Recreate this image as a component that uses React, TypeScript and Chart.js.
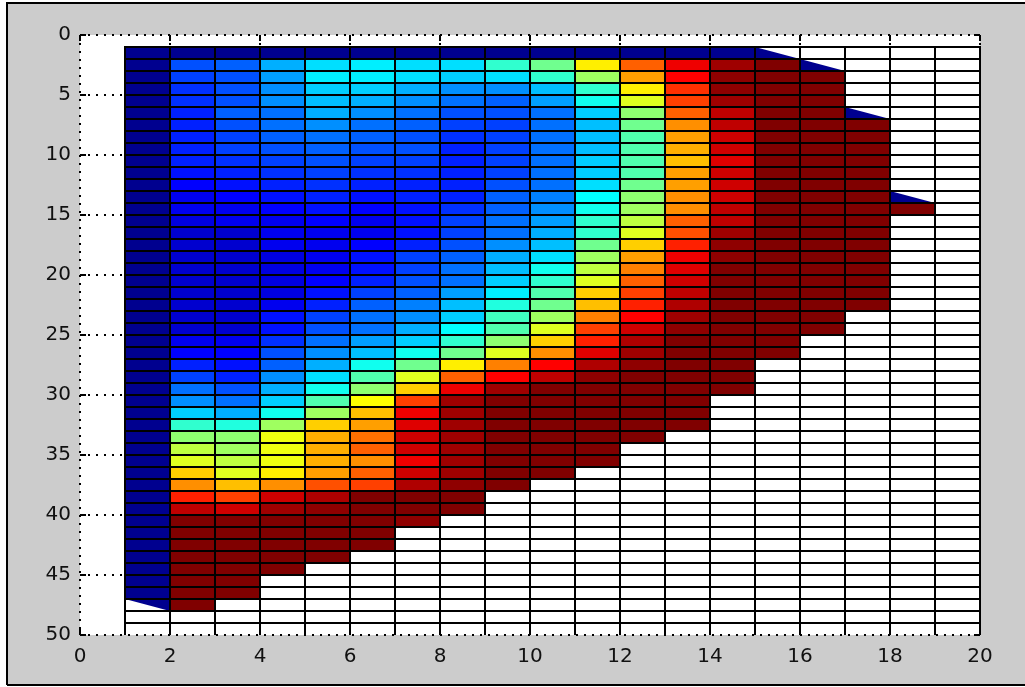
import { useEffect, useRef } from "react";
import { Chart, registerables } from "chart.js";

Chart.register(...registerables);

const CANVAS_W = 1025;
const CANVAS_H = 687;

// Axis ticks
const xTickValues = [0, 2, 4, 6, 8, 10, 12, 14, 16, 18, 20];
const yTickValues = [0, 5, 10, 15, 20, 25, 30, 35, 40, 45, 50];

// Mesh node coordinates (cell edges of the pcolor grid)
const meshX = [1, 2, 3, 4, 5, 6, 7, 8, 9, 10, 11, 12, 13, 14, 15, 16, 17, 18, 19, 20];
const meshY = [1, 2, 3, 4, 5, 6, 7, 8, 9, 10, 11, 12, 13, 14, 15, 16, 17, 18, 19, 20, 21, 22, 23, 24, 25,
  26, 27, 28, 29, 30, 31, 32, 33, 34, 35, 36, 37, 38, 39, 40, 41, 42, 43, 44, 45, 46, 47, 48, 49, 50];

// Left edge of each filled column and the depth of its first filled cell
const columnX = [1, 2, 3, 4, 5, 6, 7, 8, 9, 10, 11, 12, 13, 14, 15, 16, 17, 18];
const columnTop = [1, 1, 1, 1, 1, 1, 1, 1, 1, 1, 1, 1, 1, 1, 2, 3, 7, 14];

// Cell values (0..100 on the jet scale), top to bottom, one array per column
const col01 = [0, 0, 0, 0, 0, 0, 0, 0, 0, 0, 0, 0, 0, 0, 0, 0, 0, 0, 0, 0, 0, 0, 0, 0, 0, 0, 0, 0, 0, 0,
  0, 0, 0, 0, 0, 0, 0, 0, 0, 0, 0, 0, 0, 0, 0, 0];
const col02 = [0, 19, 17, 16, 16, 15, 15, 14, 14, 14, 13, 11, 9, 9, 8, 7, 7, 7, 7, 7, 7, 7, 7, 7, 9, 11,
  14, 17, 22, 26, 32, 42, 50, 55, 59, 66, 73, 84, 94, 100, 100, 100, 100, 100, 100, 100, 100];
const col03 = [0, 20, 19, 19, 19, 20, 19, 18, 17, 16, 14, 13, 11, 9, 9, 7, 7, 7, 7, 7, 7, 7, 7, 7, 9, 11,
  13, 14, 19, 23, 28, 39, 50, 52, 55, 59, 69, 81, 92, 100, 100, 100, 100, 100, 100, 100];
const col04 = [0, 28, 27, 26, 25, 23, 22, 21, 19, 17, 16, 14, 13, 11, 10, 9, 9, 8, 8, 8, 8, 9, 13, 13, 16,
  19, 20, 25, 28, 31, 38, 53, 61, 61, 61, 64, 73, 92, 97, 100, 100, 100, 100, 100];
const col05 = [0, 33, 35, 32, 30, 28, 25, 23, 20, 19, 17, 16, 14, 13, 11, 10, 9, 9, 10, 11, 13, 15, 17, 19,
  22, 25, 28, 33, 38, 44, 52, 66, 70, 70, 70, 72, 80, 95, 98, 100, 100, 100, 100];
const col06 = [0, 35, 35, 32, 29, 26, 23, 21, 19, 17, 16, 14, 13, 11, 10, 10, 11, 12, 13, 14, 17, 20, 22,
  23, 27, 30, 38, 44, 50, 62, 68, 72, 76, 78, 73, 77, 81, 100, 100, 100, 100, 100];
const col07 = [0, 34, 33, 28, 25, 23, 20, 19, 19, 17, 16, 14, 14, 13, 13, 13, 14, 17, 17, 19, 20, 24, 26,
  28, 31, 38, 48, 59, 67, 81, 89, 91, 92, 92, 89, 92, 95, 100, 100, 98];
const col08 = [0, 33, 31, 26, 22, 19, 17, 16, 15, 14, 14, 14, 15, 16, 17, 18, 19, 20, 22, 23, 27, 30, 32,
  36, 42, 48, 63, 78, 89, 97, 97, 97, 97, 97, 97, 97, 98, 100, 100];
const col09 = [0, 41, 33, 25, 21, 19, 17, 17, 17, 17, 17, 19, 20, 20, 22, 23, 25, 28, 30, 31, 35, 40, 43,
  45, 50, 59, 74, 88, 97, 100, 100, 100, 100, 100, 100, 100, 100];
const col10 = [0, 48, 41, 30, 27, 23, 22, 22, 22, 23, 23, 23, 24, 25, 27, 28, 30, 33, 38, 41, 44, 47, 53,
  59, 66, 73, 88, 94, 100, 100, 100, 100, 100, 100, 100, 100];
const col11 = [0, 63, 53, 42, 38, 31, 30, 30, 30, 31, 32, 33, 36, 38, 41, 42, 47, 53, 56, 59, 66, 69, 75,
  81, 84, 91, 95, 98, 100, 100, 100, 100, 100, 100, 100];
const col12 = [0, 77, 71, 63, 58, 50, 48, 45, 45, 44, 45, 47, 50, 52, 56, 59, 67, 72, 75, 78, 81, 84, 88,
  92, 95, 97, 99, 100, 100, 100, 100, 100, 100];
const col13 = [0, 89, 88, 83, 81, 77, 73, 72, 70, 68, 72, 72, 73, 73, 77, 80, 84, 89, 91, 92, 94, 95, 97,
  98, 100, 100, 100, 100, 100, 100, 100, 100];
const col14 = [0, 97, 98, 98, 97, 94, 93, 92, 92, 91, 92, 92, 92, 93, 94, 97, 98, 99, 100, 100, 100, 100,
  100, 100, 100, 100, 100, 100, 100];
const col15 = [100, 100, 100, 100, 100, 100, 100, 100, 100, 100, 100, 100, 100, 100, 100, 100, 100, 100,
  100, 100, 100, 100, 100, 100, 100];
const col16 = [100, 100, 100, 100, 100, 100, 100, 100, 100, 100, 100, 100, 100, 100, 100, 100, 100, 100,
  100, 100, 100, 100];
const col17 = [100, 100, 100, 100, 100, 100, 100, 100, 100, 100, 100, 100, 100, 100, 100, 100];
const col18 = [100];

const columns = [col01, col02, col03, col04, col05, col06, col07, col08, col09, col10, col11, col12,
  col13, col14, col15, col16, col17, col18];

// Partial (triangular) faces along the surface and the floor of the domain
const surfaceWedgeX = [15, 16, 17, 18];
const surfaceWedgeY = [1, 2, 6, 13];
const surfaceWedgeValue = [0, 0, 0, 0];
const floorWedgeX = [1];
const floorWedgeY = [47];
const floorWedgeValue = [0];

// MATLAB-style jet(64) colormap
const JET_SIZE = 64;
const jetTable: number[][] = (() => {
  const m = JET_SIZE;
  const n = Math.ceil(m / 4);
  const u: number[] = [];
  for (let i = 1; i <= n; i++) u.push(i / n);
  for (let i = 1; i < n; i++) u.push(1);
  for (let i = n; i >= 1; i--) u.push(i / n);
  const g0 = Math.ceil(n / 2) - (m % 4 === 1 ? 1 : 0);
  const table = Array.from({ length: m }, () => [0, 0, 0]);
  u.forEach((val, k) => {
    const g = g0 + k + 1;
    const r = g + n;
    const b = g - n;
    if (r >= 1 && r <= m) table[r - 1][0] = val;
    if (g >= 1 && g <= m) table[g - 1][1] = val;
    if (b >= 1 && b <= m) table[b - 1][2] = val;
  });
  return table;
})();

function jet(v: number): string {
  const idx = Math.round(Math.min(1, Math.max(0, v / 100)) * (JET_SIZE - 1));
  const [r, g, b] = jetTable[idx];
  return `rgb(${Math.round(r * 255)},${Math.round(g * 255)},${Math.round(b * 255)})`;
}

type Cell = { x: number; y: number; v: number };

function buildCells(): Cell[] {
  const cells: Cell[] = [];
  columns.forEach((col, i) => {
    col.forEach((v, k) => {
      cells.push({ x: columnX[i] + 0.5, y: columnTop[i] + k + 0.5, v });
    });
  });
  return cells;
}

const pcolorPlugin = {
  id: "pcolorMesh",
  beforeDraw(chart: any) {
    const { ctx, chartArea: a } = chart;
    const xs = chart.scales.x;
    const ys = chart.scales.y;
    ctx.save();
    // figure background and frame
    ctx.fillStyle = "#ffffff";
    ctx.fillRect(0, 0, CANVAS_W, CANVAS_H);
    ctx.fillStyle = "#cccccc";
    ctx.fillRect(7, 3, CANVAS_W - 7, 682);
    ctx.strokeStyle = "#000000";
    ctx.lineWidth = 2;
    ctx.beginPath();
    ctx.moveTo(7, 685);
    ctx.lineTo(7, 3);
    ctx.lineTo(CANVAS_W, 3);
    ctx.moveTo(7, 685);
    ctx.lineTo(CANVAS_W, 685);
    ctx.stroke();

    // axes background
    ctx.fillStyle = "#ffffff";
    ctx.fillRect(a.left, a.top, a.right - a.left, a.bottom - a.top);

    // dotted major grid
    ctx.strokeStyle = "#000000";
    ctx.lineWidth = 2;
    ctx.setLineDash([2, 6]);
    ctx.beginPath();
    xTickValues.forEach((v) => {
      const px = Math.round(xs.getPixelForValue(v));
      ctx.moveTo(px, a.top);
      ctx.lineTo(px, a.bottom);
    });
    yTickValues.forEach((v) => {
      const py = Math.round(ys.getPixelForValue(v));
      ctx.moveTo(a.left, py);
      ctx.lineTo(a.right, py);
    });
    ctx.stroke();
    ctx.setLineDash([]);

    // inward tick marks on all four sides
    const tl = 6;
    ctx.lineWidth = 2;
    ctx.beginPath();
    xTickValues.forEach((v) => {
      const px = Math.round(xs.getPixelForValue(v));
      ctx.moveTo(px, a.bottom);
      ctx.lineTo(px, a.bottom - tl);
      ctx.moveTo(px, a.top);
      ctx.lineTo(px, a.top + tl);
    });
    yTickValues.forEach((v) => {
      const py = Math.round(ys.getPixelForValue(v));
      ctx.moveTo(a.left, py);
      ctx.lineTo(a.left + tl, py);
      ctx.moveTo(a.right, py);
      ctx.lineTo(a.right - tl, py);
    });
    ctx.stroke();
    ctx.restore();
  },
  beforeDatasetsDraw(chart: any) {
    const { ctx } = chart;
    const xs = chart.scales.x;
    const ys = chart.scales.y;
    const px = (v: number) => xs.getPixelForValue(v);
    const py = (v: number) => ys.getPixelForValue(v);
    ctx.save();

    // filled faces
    const data = chart.data.datasets[0].data as Cell[];
    data.forEach((c) => {
      const x0 = px(c.x - 0.5);
      const x1 = px(c.x + 0.5);
      const y0 = py(c.y - 0.5);
      const y1 = py(c.y + 0.5);
      ctx.fillStyle = jet(c.v);
      ctx.fillRect(x0, y0, x1 - x0, y1 - y0);
    });

    // triangular faces at the domain boundary
    surfaceWedgeX.forEach((x, i) => {
      const y = surfaceWedgeY[i];
      ctx.fillStyle = jet(surfaceWedgeValue[i]);
      ctx.beginPath();
      ctx.moveTo(px(x), py(y));
      ctx.lineTo(px(x), py(y + 1));
      ctx.lineTo(px(x + 1), py(y + 1));
      ctx.closePath();
      ctx.fill();
    });
    floorWedgeX.forEach((x, i) => {
      const y = floorWedgeY[i];
      ctx.fillStyle = jet(floorWedgeValue[i]);
      ctx.beginPath();
      ctx.moveTo(px(x), py(y));
      ctx.lineTo(px(x + 1), py(y));
      ctx.lineTo(px(x + 1), py(y + 1));
      ctx.closePath();
      ctx.fill();
    });

    // faceted mesh edges
    ctx.strokeStyle = "#000000";
    ctx.lineWidth = 2;
    ctx.beginPath();
    const xFirst = meshX[0];
    const xLast = meshX[meshX.length - 1];
    const yFirst = meshY[0];
    const yLast = meshY[meshY.length - 1];
    meshX.forEach((x) => {
      const p = Math.round(px(x));
      ctx.moveTo(p, py(yFirst) - 1);
      ctx.lineTo(p, py(yLast));
    });
    meshY.slice(0, -1).forEach((y) => {
      const p = Math.round(py(y));
      ctx.moveTo(px(xFirst) - 1, p);
      ctx.lineTo(px(xLast) + 1, p);
    });
    ctx.stroke();
    ctx.restore();
  },
};

export default function App() {
  const canvasRef = useRef<HTMLCanvasElement | null>(null);

  useEffect(() => {
    const canvas = canvasRef.current;
    if (!canvas) return;
    const tickFont = { family: "'DejaVu Sans', sans-serif", size: 20 };
    const chart = new Chart(canvas, {
      type: "scatter",
      data: {
        datasets: [
          {
            data: buildCells() as any,
            pointRadius: 0,
            pointHoverRadius: 0,
            showLine: false,
          },
        ],
      },
      options: {
        responsive: false,
        animation: false,
        devicePixelRatio: 1,
        events: [],
        layout: { padding: { top: 35, right: 45, left: 0, bottom: 0 } },
        plugins: { legend: { display: false }, tooltip: { enabled: false } },
        scales: {
          x: {
            type: "linear",
            min: 0,
            max: 20,
            grid: { display: false, drawTicks: false },
            border: { display: false },
            ticks: { color: "#111", font: tickFont, padding: 10, maxRotation: 0, autoSkip: false },
            afterBuildTicks: (s: any) => {
              s.ticks = xTickValues.map((v) => ({ value: v }));
            },
            afterFit: (s: any) => {
              s.height = 52;
              s.paddingLeft = 0;
              s.paddingRight = 0;
            },
          },
          y: {
            type: "linear",
            reverse: true,
            min: 0,
            max: 50,
            grid: { display: false, drawTicks: false },
            border: { display: false },
            ticks: { color: "#111", font: tickFont, padding: 9, autoSkip: false },
            afterBuildTicks: (s: any) => {
              s.ticks = yTickValues.map((v) => ({ value: v }));
            },
            afterFit: (s: any) => {
              s.width = 80;
              s.paddingTop = 0;
              s.paddingBottom = 0;
            },
          },
        },
      },
      plugins: [pcolorPlugin],
    });
    return () => chart.destroy();
  }, []);

  return (
    <div style={{ position: "fixed", left: 0, top: 0, width: CANVAS_W, height: CANVAS_H, background: "#fff" }}>
      <canvas ref={canvasRef} width={CANVAS_W} height={CANVAS_H} style={{ display: "block" }} />
    </div>
  );
}
